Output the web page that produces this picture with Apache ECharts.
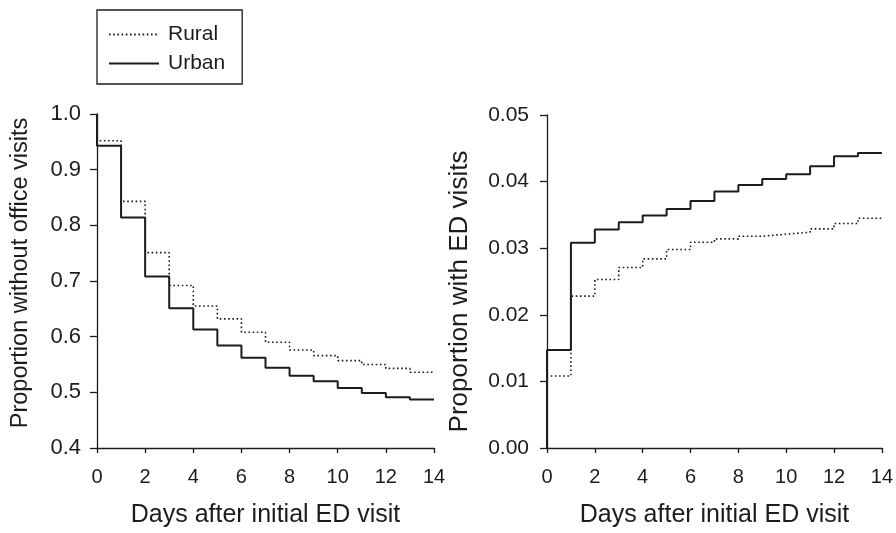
<!DOCTYPE html>
<html><head><meta charset="utf-8">
<script src="https://cdn.jsdelivr.net/npm/echarts@6/dist/echarts.min.js"></script>
<style>html,body{margin:0;padding:0;background:#fff}#c{width:896px;height:533px}</style>
</head><body><div id="c"></div>
<script>
// Days 0..13: value held on [day, day+1)
const days = [0,1,2,3,4,5,6,7,8,9,10,11,12,13];
const officeUrban = [0.943,0.814,0.708,0.651,0.613,0.584,0.562,0.544,0.530,0.520,0.508,0.499,0.491,0.487];
const officeRural = [0.952,0.843,0.751,0.692,0.655,0.632,0.608,0.590,0.576,0.566,0.557,0.550,0.543,0.536];
const edUrban = [0.0147,0.0308,0.0328,0.0339,0.0349,0.0359,0.0371,0.0385,0.0395,0.0404,0.0411,0.0423,0.0438,0.0443];
const edRural = [0.0108,0.0228,0.0253,0.0271,0.0284,0.0298,0.0309,0.0314,0.0318,0.0321,0.0324,0.0329,0.0337,0.0345];
const officeStart = 1.0;
const edStart = 0.0;
const lastDay = 14;
const xTicks = [0,2,4,6,8,10,12,14];
const officeTicks = [0.4,0.5,0.6,0.7,0.8,0.9,1.0];
const edTicks = [0.00,0.01,0.02,0.03,0.04,0.05];

function build(start, vals){
  const d = [[0,start]];
  vals.forEach((v,i)=>d.push([days[i],v]));
  d.push([lastDay, vals[vals.length-1]]);
  return d;
}
const ink = '#1c1c1c';
const font = 'Liberation Sans, Arial, sans-serif';
function xAxis(gi){
  return {gridIndex:gi,type:'value',min:xTicks[0],max:xTicks[xTicks.length-1],interval:xTicks[1]-xTicks[0],
    name:'Days after initial ED visit',nameLocation:'middle',nameGap:55,
    nameTextStyle:{fontSize:25,color:ink,fontFamily:font},
    axisLine:{show:true,onZero:false,lineStyle:{color:ink,width:1.3}},
    axisTick:{show:true,length:5,lineStyle:{color:ink,width:1.3}},
    axisLabel:{fontSize:20,color:ink,fontFamily:font,margin:19},
    splitLine:{show:false}};
}
function yAxis(gi,ticks,name,dec,gap,fs,nfs,margin,pad){
  return {gridIndex:gi,type:'value',min:ticks[0],max:ticks[ticks.length-1],
    interval:Math.round((ticks[1]-ticks[0])*1000)/1000,
    name:name,nameLocation:'middle',nameGap:gap,
    nameTextStyle:{fontSize:nfs,color:ink,fontFamily:font,padding:pad},
    axisLine:{show:true,onZero:false,lineStyle:{color:ink,width:1.3}},
    axisTick:{show:true,length:7,lineStyle:{color:ink,width:1.3}},
    axisLabel:{fontSize:fs,color:ink,fontFamily:font,margin:margin,formatter:v=>v.toFixed(dec)},
    splitLine:{show:false}};
}
const dotted = {color:ink,width:1.6,type:[1.6,2.6]};
const solid = {color:ink,width:2};
const chart = echarts.init(document.getElementById('c'),null,{renderer:'canvas'});
chart.setOption({
  backgroundColor:'#fff',
  animation:false,
  legend:{left:97,top:10,orient:'vertical',itemWidth:50,itemHeight:14,itemGap:8,
    padding:[14,17,10,11],borderColor:ink,borderWidth:1.3,
    itemStyle:{opacity:0},
    textStyle:{fontSize:21,color:ink,fontFamily:font,padding:[0,0,0,4]},
    data:['Rural','Urban']},
  grid:[{left:97,top:114,width:337,height:337},{left:547,top:115,width:336,height:337}],
  xAxis:[xAxis(0),xAxis(1)],
  yAxis:[yAxis(0,officeTicks,'Proportion without office visits',1,64,22,23.5,16,[0,0,0,16]),
         yAxis(1,edTicks,'Proportion with ED visits',2,74,21,26,18,[0,20,0,0])],
  series:[
    {name:'Rural',type:'line',step:'end',xAxisIndex:0,yAxisIndex:0,symbol:'none',lineStyle:dotted,itemStyle:{color:ink},data:build(officeStart,officeRural)},
    {name:'Urban',type:'line',step:'end',xAxisIndex:0,yAxisIndex:0,symbol:'none',lineStyle:solid,itemStyle:{color:ink},data:build(officeStart,officeUrban)},
    {name:'Rural',type:'line',step:'end',xAxisIndex:1,yAxisIndex:1,symbol:'none',lineStyle:dotted,itemStyle:{color:ink},data:build(edStart,edRural)},
    {name:'Urban',type:'line',step:'end',xAxisIndex:1,yAxisIndex:1,symbol:'none',lineStyle:solid,itemStyle:{color:ink},data:build(edStart,edUrban)}
  ]
});
</script></body></html>
